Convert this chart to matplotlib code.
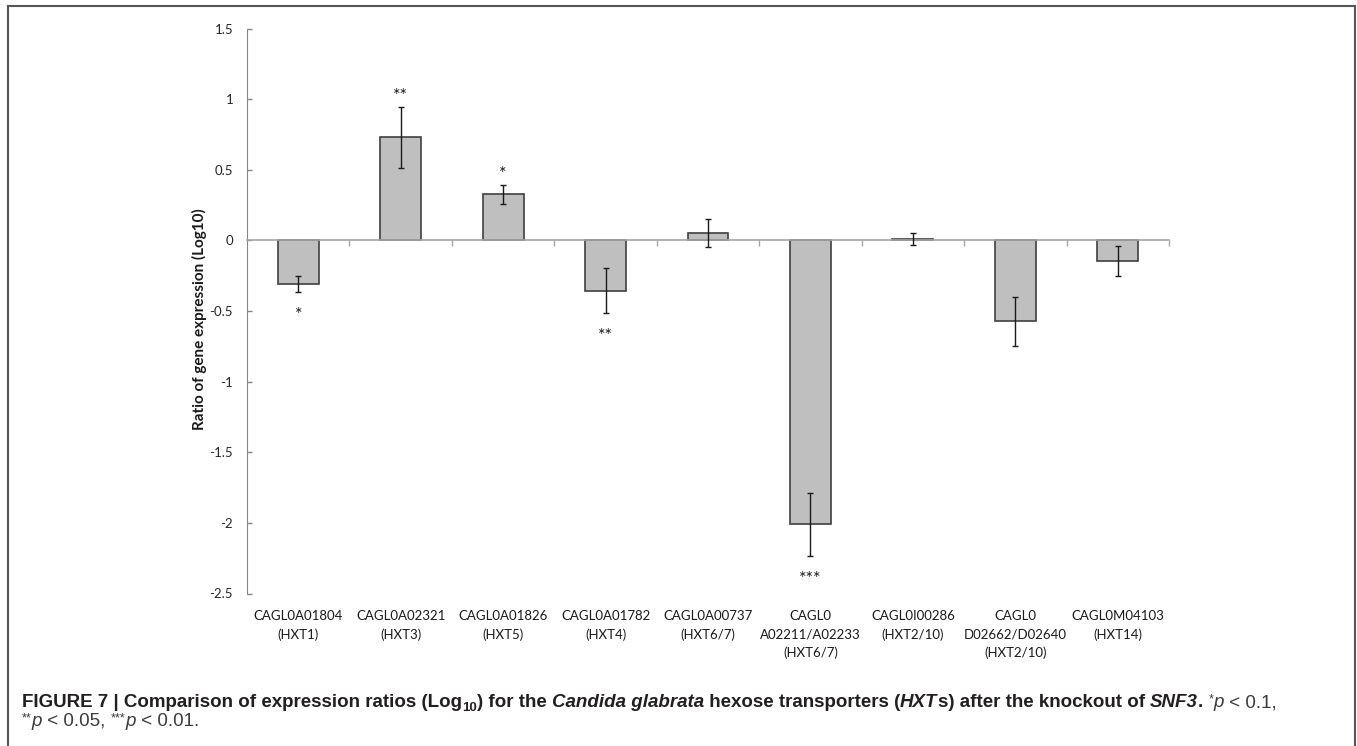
import matplotlib
matplotlib.use('Agg')
import matplotlib.pyplot as plt
from matplotlib.patches import Rectangle
import numpy as np

W, H = 1357, 746

genes = ['CAGL0A01804\n(HXT1)', 'CAGL0A02321\n(HXT3)', 'CAGL0A01826\n(HXT5)',
         'CAGL0A01782\n(HXT4)', 'CAGL0A00737\n(HXT6/7)',
         'CAGL0\nA02211/A02233\n(HXT6/7)', 'CAGL0I00286\n(HXT2/10)',
         'CAGL0\nD02662/D02640\n(HXT2/10)', 'CAGL0M04103\n(HXT14)']
ratios = [-0.31, 0.73, 0.325, -0.355, 0.052, -2.01, 0.01, -0.572, -0.147]
errors = [0.055, 0.215, 0.07, 0.16, 0.10, 0.225, 0.04, 0.173, 0.104]
stars = ['*', '**', '*', '**', '', '***', '', '', '']
yticks = [-2.5, -2, -1.5, -1, -0.5, 0, 0.5, 1, 1.5]

calibri = ['Lato', 'DejaVu Sans']

fig = plt.figure(figsize=(W / 100, H / 100), dpi=100)
ax = fig.add_axes([247 / W, 1 - 593.5 / H, (1169 - 247) / W, (593.5 - 28.5) / H])

x = np.arange(len(genes))
ax.bar(x, ratios, width=0.4, color='#bfbfbf', edgecolor='#404040', linewidth=1.2, zorder=2)
ax.errorbar(x, ratios, yerr=errors, fmt='none', ecolor='#1a1a1a', elinewidth=1,
            capsize=2.5, capthick=1, zorder=3)

# significance stars just past the end of each error bar
for xi, v, e, s in zip(x, ratios, errors, stars):
    if not s:
        continue
    if v > 0:
        y = v + e + 0.04
    else:
        y = v - e - 0.2
    ax.text(xi, y, s, ha='center', va='baseline', fontsize=13, family=calibri, color='#1a1a1a')

ax.set_xlim(-0.5, len(genes) - 0.5)
ax.set_ylim(-2.5, 1.5)
ax.set_yticks(yticks)
ax.set_yticklabels(['{:g}'.format(t) for t in yticks])
ax.tick_params(axis='y', direction='in', length=3.5, width=1, color='#868686',
               pad=10, labelsize=9.5, labelcolor='#262626')
for lbl in ax.get_yticklabels():
    lbl.set_family(calibri)

ax.set_xticks(np.arange(0.5, len(genes), 1))
ax.set_xticklabels([])
ax.tick_params(axis='x', direction='out', length=4.5, width=1, color='#a6a6a6')

ax.spines['top'].set_visible(False)
ax.spines['right'].set_visible(False)
ax.spines['left'].set_color('#868686')
ax.spines['bottom'].set_position(('data', 0))
ax.spines['bottom'].set_color('#a6a6a6')
ax.spines['bottom'].set_linewidth(1.2)

for xi, g in zip(x, genes):
    ax.annotate(g, xy=(xi, 0), xycoords=('data', 'axes fraction'), xytext=(0, -17),
                textcoords='offset pixels', ha='center', va='top', fontsize=9.5,
                family=calibri, color='#1a1a1a', linespacing=1.6)

fig.text(199 / W, 1 - 319 / H, 'Ratio of gene expression (Log10)', rotation=90,
         ha='center', va='center', fontsize=11, fontweight='bold', family=calibri,
         color='#1a1a1a')

# outer frame of the figure panel
fig.add_artist(Rectangle((8 / W, -0.05), (1355 - 8) / W, 1.05 - 6 / H,
                         transform=fig.transFigure, fill=False,
                         edgecolor='#555555', linewidth=1.5))

# caption built from runs of differently styled text
fig.canvas.draw()
rend = fig.canvas.get_renderer()
cap = ['Liberation Sans', 'DejaVu Sans']
B = dict(fontsize=13.5, fontweight='bold', color='#231f20')
BI = dict(fontsize=13.5, fontweight='bold', style='italic', color='#231f20')
N = dict(fontsize=13.5, color='#3c3c3c')
NI = dict(fontsize=13.5, style='italic', color='#3c3c3c')
SUP = dict(fontsize=9, color='#3c3c3c')
SUB = dict(fontsize=9.5, fontweight='bold', color='#231f20')


def width_of(s, kw):
    t1 = fig.text(0, 0, s + 'x', family=cap, **kw)
    t2 = fig.text(0, 0, 'x', family=cap, **kw)
    w = t1.get_window_extent(rend).width - t2.get_window_extent(rend).width
    t1.remove()
    t2.remove()
    return w


def put_runs(parts, x0, y0):
    xp = x0
    for s, kw, dy in parts:
        fig.text(xp / W, 1 - (y0 - dy) / H, s, ha='left', va='baseline', family=cap, **kw)
        xp += width_of(s, kw)


line1 = [('FIGURE 7 | Comparison of expression ratios (Log', B, 0),
         ('10', SUB, -4),
         (') for the ', B, 0),
         ('Candida glabrata', BI, 0),
         (' hexose transporters (', B, 0),
         ('HXT', BI, 0),
         ('s) after the knockout of ', B, 0),
         ('SNF3', BI, 0),
         ('. ', B, 0),
         ('*', SUP, 5),
         ('p', NI, 0),
         (' < 0.1,', N, 0)]
line2 = [('**', SUP, 5),
         ('p', NI, 0),
         (' < 0.05, ', N, 0),
         ('***', SUP, 5),
         ('p', NI, 0),
         (' < 0.01.', N, 0)]
put_runs(line1, 22, 707)
put_runs(line2, 22, 726)

fig.savefig('out.png', dpi=100)
